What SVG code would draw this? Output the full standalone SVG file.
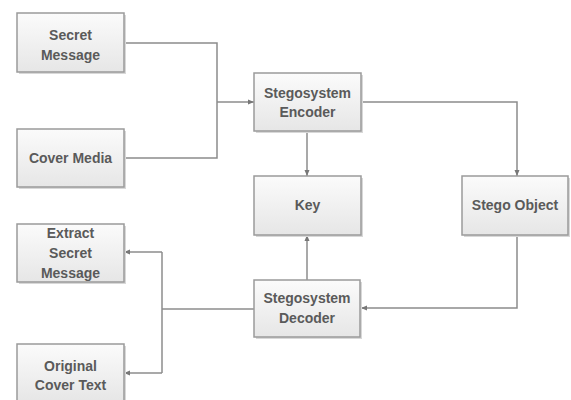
<svg xmlns="http://www.w3.org/2000/svg" width="571" height="400" viewBox="0 0 571 400">
<defs>
<linearGradient id="g" x1="0" y1="0" x2="0" y2="1">
<stop offset="0" stop-color="#fbfbfb"/>
<stop offset="1" stop-color="#e6e6e6"/>
</linearGradient>
<marker id="a" viewBox="0 0 6 6" refX="6" refY="3" markerWidth="6" markerHeight="6" orient="auto" markerUnits="userSpaceOnUse">
<path d="M0,0.5 L6,3 L0,5.5 z" fill="#777"/>
</marker>
<style>
.box{fill:url(#g);stroke:#9a9a9a;stroke-width:1.5}
.sh{fill:#d8d8d8}
text{font-family:"Liberation Sans",Arial,sans-serif;font-weight:bold;font-size:14px;fill:#5a5a5a;text-anchor:middle}
.c{fill:none;stroke:#8c8c8c;stroke-width:1.5}
</style>
</defs>
<rect width="571" height="400" fill="#fff"/>
<g id="connectors">
<polyline class="c" points="124,43 217,43 217,158 124,158"/>
<line class="c" x1="217" y1="102" x2="254" y2="102" marker-end="url(#a)"/>
<line class="c" x1="307" y1="131" x2="307" y2="176" marker-end="url(#a)"/>
<polyline class="c" points="361,102 517,102 517,176" marker-end="url(#a)"/>
<polyline class="c" points="517,235 517,308 361,308" marker-end="url(#a)"/>
<line class="c" x1="307" y1="280" x2="307" y2="235" marker-end="url(#a)"/>
<line class="c" x1="254" y1="309" x2="162" y2="309"/>
<polyline class="c" points="162,252 162,373"/>
<line class="c" x1="162" y1="252" x2="124" y2="252" marker-end="url(#a)"/>
<line class="c" x1="162" y1="373" x2="124" y2="373" marker-end="url(#a)"/>
</g>
<g id="secret">
<rect class="sh" x="19" y="15" width="107" height="59"/>
<rect class="box" x="17" y="13" width="107" height="59"/>
<text x="70.5" y="40">Secret</text>
<text x="70.5" y="60">Message</text>
</g>
<g id="cover">
<rect class="sh" x="19" y="131" width="107" height="58"/>
<rect class="box" x="17" y="129" width="107" height="58"/>
<text x="70.5" y="163">Cover Media</text>
</g>
<g id="encoder">
<rect class="sh" x="256" y="75" width="107" height="58"/>
<rect class="box" x="254" y="73" width="107" height="58"/>
<text x="307.5" y="98">Stegosystem</text>
<text x="307.5" y="117">Encoder</text>
</g>
<g id="key">
<rect class="sh" x="256" y="178" width="107" height="59"/>
<rect class="box" x="254" y="176" width="107" height="59"/>
<text x="307.5" y="210">Key</text>
</g>
<g id="stego">
<rect class="sh" x="464" y="178" width="106" height="59"/>
<rect class="box" x="462" y="176" width="106" height="59"/>
<text x="515" y="210">Stego Object</text>
</g>
<g id="decoder">
<rect class="sh" x="256" y="282" width="106" height="57"/>
<rect class="box" x="254" y="280" width="106" height="57"/>
<text x="307" y="303">Stegosystem</text>
<text x="307" y="323">Decoder</text>
</g>
<g id="extract">
<rect class="sh" x="19" y="226" width="107" height="58"/>
<rect class="box" x="17" y="224" width="107" height="58"/>
<text x="70.5" y="238">Extract</text>
<text x="70.5" y="258">Secret</text>
<text x="70.5" y="278">Message</text>
</g>
<g id="original">
<rect class="sh" x="19" y="346" width="107" height="58"/>
<rect class="box" x="17" y="344" width="107" height="58"/>
<text x="70.5" y="371">Original</text>
<text x="70.5" y="390">Cover Text</text>
</g>
</svg>
